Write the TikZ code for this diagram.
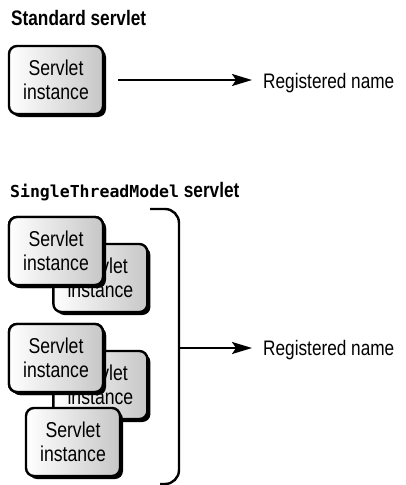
\documentclass[tikz,border=0pt]{standalone}
\usepackage{fontspec}
\setmainfont{Liberation Sans}[FakeStretch=0.82]
\newfontfamily\stmfont{DejaVu Sans Mono}
\usetikzlibrary{arrows.meta, positioning, shadows}

\tikzset{
  % Servlet instance boxes
  servletbox/.style={
    rectangle, rounded corners=8pt, minimum width=94pt, minimum height=68pt,
    draw=black, line width=2.4pt, left color=white, right color=black!22,
    drop shadow={shadow xshift=3pt, shadow yshift=-3pt, opacity=1, fill=black},
    align=center, inner sep=0pt, font=\fontsize{21.5}{24}\selectfont,
  },
  % Arrows
  regarrow/.style={-{Stealth[length=20pt, width=12pt, inset=4pt]}, line width=2pt},
  % Labels next to the arrows
  regname/.style={anchor=base west, inner sep=0pt, font=\fontsize{21}{24}\selectfont},
  % Section titles
  heading/.style={anchor=base west, inner sep=0pt, font=\fontsize{21}{24}\selectfont\bfseries},
  % Bracket round the pool
  bracketline/.style={line width=2.4pt, rounded corners=14pt},
}

\begin{document}
\begin{tikzpicture}[x=1pt, y=-1pt]
  \useasboundingbox (0,0) rectangle (405,485);

  % Standard servlet
  \node[heading] (stdtitle) at (11,25) {Standard servlet};
  \node[servletbox] (std) at (56,80) {Servlet\\instance};
  \node[regname] (reg1) at (263,88) {Registered name};
  \draw[regarrow, shorten <=14pt, shorten >=11pt] (std.east) -- (std.east -| reg1.west);

  % SingleThreadModel servlet
  \node[heading] (stmtitle) at (10,197) {{\stmfont\fontsize{16.5}{20}\selectfont SingleThreadModel} servlet};

  % First pair (back one first)
  \node[servletbox] (poola) at (56,251) {};
  \node[servletbox, right=-52pt of poola, yshift=-27pt] (poolb) {Servlet\\instance};
  \node[servletbox] (poola) at (56,251) {Servlet\\instance};

  % Second group
  \node[servletbox] (poolc) at (56,358) {};
  \node[servletbox, right=-52pt of poolc, yshift=-27pt] (poold) {Servlet\\instance};
  \node[servletbox] (poolc) at (56,358) {Servlet\\instance};
  \node[servletbox] (poole) at (73,442) {Servlet\\instance};

  % Bracket and arrow
  \coordinate (bkt top) at (150,209);
  \coordinate (bkt corner) at (179,484);
  \coordinate (bkt bot) at (160,484);
  \coordinate (bkt mid) at (179,348);
  \draw[bracketline] (bkt top) -| (bkt corner) -- (bkt bot);

  \node[regname] (reg2) at (263,355) {Registered name};
  \draw[regarrow, shorten >=11pt] (bkt mid) -- (bkt mid -| reg2.west);
\end{tikzpicture}
\end{document}
